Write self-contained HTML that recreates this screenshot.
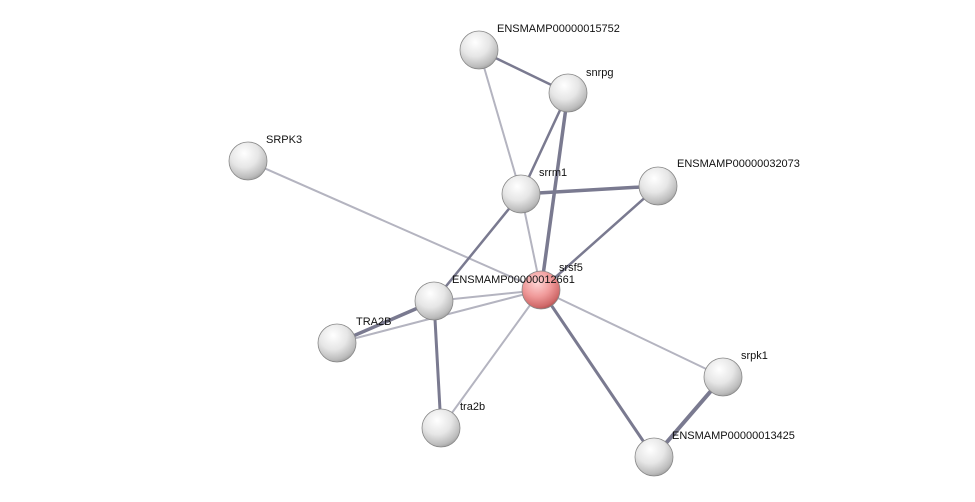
<!DOCTYPE html>
<html><head><meta charset="utf-8"><style>
html,body{margin:0;padding:0;background:#fff;}
svg{display:block;}
text{font-family:"Liberation Sans",sans-serif;font-size:11px;fill:#111;}
</style></head><body>
<svg width="975" height="502" viewBox="0 0 975 502" xmlns="http://www.w3.org/2000/svg">
<defs>
<radialGradient id="g" cx="0.4" cy="0.3" r="0.75">
<stop offset="0" stop-color="#ffffff"/>
<stop offset="0.5" stop-color="#e6e6e6"/>
<stop offset="0.85" stop-color="#bcbcbc"/>
<stop offset="1" stop-color="#9a9a9a"/>
</radialGradient>
<radialGradient id="r" cx="0.4" cy="0.3" r="0.75">
<stop offset="0" stop-color="#ffd6d6"/>
<stop offset="0.5" stop-color="#f09a9a"/>
<stop offset="0.85" stop-color="#d06a6a"/>
<stop offset="1" stop-color="#a84c4c"/>
</radialGradient>
</defs>
<g stroke-linecap="round">
<!-- light edges -->
<g stroke="#b4b4c0" stroke-width="2">
<line x1="479" y1="50" x2="521" y2="194"/>
<line x1="248" y1="161" x2="541" y2="290"/>
<line x1="521" y1="194" x2="541" y2="290"/>
<line x1="541" y1="290" x2="434" y2="301"/>
<line x1="541" y1="290" x2="337" y2="343"/>
<line x1="541" y1="290" x2="441" y2="428"/>
<line x1="541" y1="290" x2="723" y2="377"/>
</g>
<!-- dark edges -->
<g stroke="#7a7a90" stroke-width="2.5">
<line x1="479" y1="50" x2="568" y2="93"/>
<line x1="568" y1="93" x2="521" y2="194"/>
<line x1="568" y1="93" x2="541" y2="290" stroke-width="3.5"/>
<line x1="521" y1="194" x2="658" y2="186" stroke-width="3.5"/>
<line x1="521" y1="194" x2="434" y2="301"/>
<line x1="658" y1="186" x2="541" y2="290"/>
<line x1="541" y1="290" x2="654" y2="457" stroke-width="3"/>
<line x1="434" y1="301" x2="337" y2="343" stroke-width="3.5"/>
<line x1="434" y1="301" x2="441" y2="428" stroke-width="3"/>
<line x1="723" y1="377" x2="654" y2="457" stroke-width="4"/>
</g>
</g>
<g stroke="#888" stroke-width="0.8">
<circle cx="479" cy="50" r="19" fill="url(#g)"/>
<circle cx="568" cy="93" r="19" fill="url(#g)"/>
<circle cx="248" cy="161" r="19" fill="url(#g)"/>
<circle cx="521" cy="194" r="19" fill="url(#g)"/>
<circle cx="658" cy="186" r="19" fill="url(#g)"/>
<circle cx="541" cy="290" r="19" fill="url(#r)"/>
<circle cx="434" cy="301" r="19" fill="url(#g)"/>
<circle cx="337" cy="343" r="19" fill="url(#g)"/>
<circle cx="723" cy="377" r="19" fill="url(#g)"/>
<circle cx="441" cy="428" r="19" fill="url(#g)"/>
<circle cx="654" cy="457" r="19" fill="url(#g)"/>
</g>
<text x="497" y="32">ENSMAMP00000015752</text>
<text x="586" y="76">snrpg</text>
<text x="266" y="143">SRPK3</text>
<text x="539" y="176">srrm1</text>
<text x="677" y="167">ENSMAMP00000032073</text>
<text x="559" y="271">srsf5</text>
<text x="452" y="283">ENSMAMP00000012661</text>
<text x="356" y="325">TRA2B</text>
<text x="741" y="359">srpk1</text>
<text x="460" y="410">tra2b</text>
<text x="672" y="439">ENSMAMP00000013425</text>
</svg>
</body></html>
